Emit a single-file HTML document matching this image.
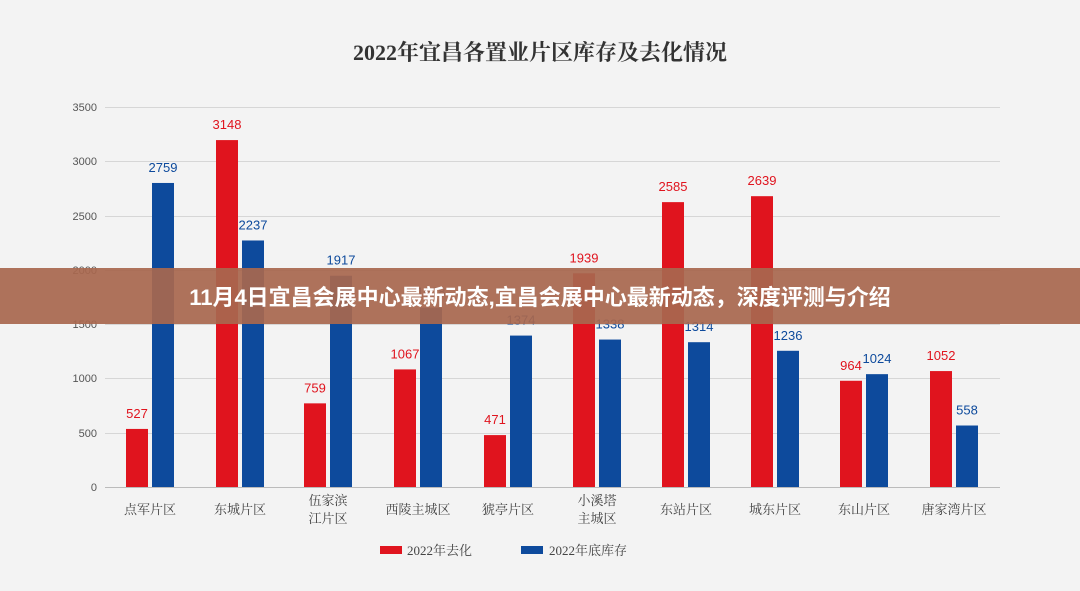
<!DOCTYPE html>
<html><head><meta charset="utf-8"><style>
body{margin:0;width:1080px;height:591px;overflow:hidden;background:#f3f3f3;}
svg{display:block}
</style></head><body>
<svg width="1080" height="591" xmlns="http://www.w3.org/2000/svg">
<rect width="1080" height="591" fill="#f3f3f3"/>
<text x="540" y="60" text-anchor="middle" font-family="'Liberation Serif','Noto Serif CJK SC',serif" font-weight="bold" font-size="22" fill="#333">2022年宜昌各置业片区库存及去化情况</text>
<g stroke="#d6d6d6" stroke-width="1">
<line x1="105" x2="1000" y1="107.5" y2="107.5"/><line x1="105" x2="1000" y1="161.5" y2="161.5"/>
<line x1="105" x2="1000" y1="216.5" y2="216.5"/><line x1="105" x2="1000" y1="270.5" y2="270.5"/>
<line x1="105" x2="1000" y1="324.5" y2="324.5"/><line x1="105" x2="1000" y1="378.5" y2="378.5"/>
<line x1="105" x2="1000" y1="433.5" y2="433.5"/><line x1="105" x2="1000" y1="487.5" y2="487.5" stroke="#bbb"/>
</g>
<g font-family="'Liberation Sans',sans-serif" font-size="11" fill="#555" text-anchor="end">
<text x="97" y="111">3500</text><text x="97" y="165">3000</text><text x="97" y="220">2500</text>
<text x="97" y="274">2000</text><text x="97" y="328">1500</text><text x="97" y="382">1000</text>
<text x="97" y="437">500</text><text x="97" y="491">0</text>
</g>
<g id="bars" font-family="'Liberation Sans',sans-serif" font-size="13" text-anchor="middle"></g>
<g font-family="'Liberation Serif','Noto Serif CJK SC',serif" font-size="13" fill="#444" text-anchor="middle">
<text x="150" y="514">点军片区</text><text x="240" y="514">东城片区</text>
<text x="328" y="505">伍家滨</text><text x="328" y="523">江片区</text>
<text x="418" y="514">西陵主城区</text><text x="508" y="514">猇亭片区</text>
<text x="597" y="505">小溪塔</text><text x="597" y="523">主城区</text>
<text x="686" y="514">东站片区</text><text x="775" y="514">城东片区</text>
<text x="864" y="514">东山片区</text><text x="954" y="514">唐家湾片区</text>
</g>
<rect x="380" y="546" width="22" height="8" fill="#e0141e"/>
<text x="407" y="555" font-family="'Liberation Serif','Noto Serif CJK SC',serif" font-size="13" fill="#444">2022年去化</text>
<rect x="521" y="546" width="22" height="8" fill="#0d4a9c"/>
<text x="549" y="555" font-family="'Liberation Serif','Noto Serif CJK SC',serif" font-size="13" fill="#444">2022年底库存</text>
<g>
<rect x="0" y="268" width="1080" height="56" fill="#a8674f" opacity="0.93"/>
<text x="540" y="305" text-anchor="middle" font-family="'Liberation Sans','Noto Sans CJK SC',sans-serif" font-weight="bold" font-size="22" fill="#fff">11月4日宜昌会展中心最新动态,宜昌会展中心最新动态，深度评测与介绍</text>
</g>
</svg>
<script>
var c=[150,240,328,418,508,597,686,775,864,954];
var r=[527,3148,759,1067,471,1939,2585,2639,964,1052];
var b=[2759,2237,1917,1628,1374,1338,1314,1236,1024,558];
var g=document.getElementById('bars'),s='';
for(var i=0;i<10;i++){
 var hr=r[i]*0.1102,hb=b[i]*0.1102;
 s+='<rect x="'+(c[i]-24)+'" y="'+(487-hr)+'" width="22" height="'+hr+'" fill="#e0141e"/>';
 s+='<rect x="'+(c[i]+2)+'" y="'+(487-hb)+'" width="22" height="'+hb+'" fill="#0d4a9c"/>';
 s+='<text x="'+(c[i]-13)+'" y="'+(487-hr-11)+'" fill="#e0141e">'+r[i]+'</text>';
 s+='<text x="'+(c[i]+13)+'" y="'+(487-hb-11)+'" fill="#0d4a9c">'+b[i]+'</text>';
}
g.innerHTML=s;
// bars drawn before banner? ensure banner on top
var svg=document.querySelector('svg');svg.appendChild(svg.lastElementChild);
</script>
</body></html>
